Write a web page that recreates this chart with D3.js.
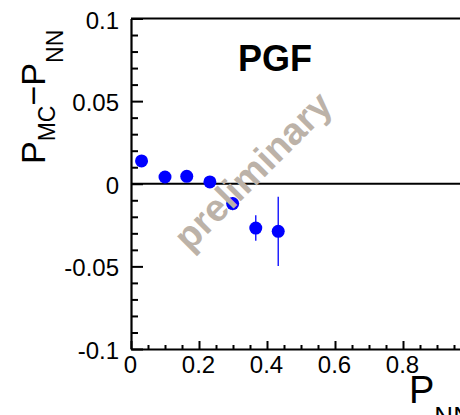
<!DOCTYPE html>
<html>
<head>
<meta charset="utf-8">
<script src="https://cdn.jsdelivr.net/npm/d3@7/dist/d3.min.js"></script>
<style>
  html, body { margin: 0; padding: 0; background: #fff; }
  svg { display: block; overflow: hidden; }
  text { font-family: "Liberation Sans", Arial, Helvetica, sans-serif; }
</style>
</head>
<body>
<svg id="chart" width="460" height="415"></svg>
<script>
// Purity difference P_MC - P_NN versus P_NN, PGF sample
const pNN      = [0.031, 0.100, 0.164, 0.232, 0.299, 0.367, 0.433];
const diff     = [0.0138, 0.0041, 0.0045, 0.0011, -0.0120, -0.0268, -0.0288];
const diffErr  = [0.0020, 0.0020, 0.0020, 0.0025, 0.0040, 0.0077, 0.0210];

const xMajorTicks = [0, 0.2, 0.4, 0.6, 0.8];
const xTickLabels = ["0", "0.2", "0.4", "0.6", "0.8"];
const yMajorTicks = [-0.1, -0.05, 0, 0.05, 0.1];
const yTickLabels = ["-0.1", "-0.05", "0", "0.05", "0.1"];

const svg = d3.select("#chart");
const frame = { left: 131, right: 471, top: 18.5, bottom: 349 };

const x = d3.scaleLinear().domain([0, 1]).range([frame.left, frame.right]);
const y = d3.scaleLinear().domain([-0.1, 0.1]).range([frame.bottom, frame.top]);

const fmtX = d => xTickLabels[xMajorTicks.findIndex(v => Math.abs(v - d) < 1e-9)];
const fmtY = d => yTickLabels[yMajorTicks.findIndex(v => Math.abs(v - d) < 1e-9)];

// minor ticks
const xMinor = d3.range(0, 1.0001, 0.05).filter(v => Math.abs(v / 0.2 - Math.round(v / 0.2)) > 1e-6);
const yMinor = d3.range(-0.1, 0.1001, 0.01).filter(v => Math.abs(v / 0.05 - Math.round(v / 0.05)) > 1e-6);

svg.append("g")
  .attr("transform", `translate(0,${frame.bottom})`)
  .call(d3.axisBottom(x).tickValues(xMinor).tickSize(-4).tickSizeOuter(0).tickFormat(""))
  .call(g => g.select(".domain").remove())
  .call(g => g.selectAll("line").attr("stroke-width", 2));

svg.append("g")
  .attr("transform", `translate(${frame.left},0)`)
  .call(d3.axisLeft(y).tickValues(yMinor).tickSize(-7).tickSizeOuter(0).tickFormat(""))
  .call(g => g.select(".domain").remove())
  .call(g => g.selectAll("line").attr("stroke-width", 2));

// major ticks + labels
svg.append("g")
  .attr("transform", `translate(0,${frame.bottom})`)
  .call(d3.axisBottom(x).tickValues(xMajorTicks).tickSize(-8).tickSizeOuter(0).tickPadding(7).tickFormat(fmtX))
  .call(g => g.select(".domain").attr("stroke-width", 2.2))
  .call(g => g.selectAll("line").attr("stroke-width", 2))
  .call(g => g.selectAll("text").attr("font-size", 24).attr("fill", "#000")
      .attr("font-family", "Liberation Sans, Arial, sans-serif").attr("dx", -1));

svg.append("g")
  .attr("transform", `translate(${frame.left},0)`)
  .call(d3.axisLeft(y).tickValues(yMajorTicks).tickSize(-12).tickSizeOuter(0).tickPadding(12).tickFormat(fmtY))
  .call(g => g.select(".domain").attr("stroke-width", 2.2))
  .call(g => g.selectAll("line").attr("stroke-width", 2))
  .call(g => g.selectAll("text").attr("font-size", 24).attr("fill", "#000")
      .attr("font-family", "Liberation Sans, Arial, sans-serif").attr("dy", "0.4em"));

// top frame edge
svg.append("line")
  .attr("x1", frame.left).attr("x2", frame.right)
  .attr("y1", frame.top).attr("y2", frame.top)
  .attr("stroke", "#000").attr("stroke-width", 2.2);

// zero reference line
svg.append("line")
  .attr("x1", frame.left).attr("x2", frame.right)
  .attr("y1", y(0)).attr("y2", y(0))
  .attr("stroke", "#000").attr("stroke-width", 2);

// data points with error bars
const pts = svg.append("g");
pts.selectAll("line.err").data(pNN).join("line")
  .attr("class", "err")
  .attr("x1", (d) => x(d)).attr("x2", (d) => x(d))
  .attr("y1", (d, i) => y(diff[i] + diffErr[i]))
  .attr("y2", (d, i) => y(diff[i] - diffErr[i]))
  .attr("stroke", "#0000ff").attr("stroke-width", 1.3);
pts.selectAll("circle").data(pNN).join("circle")
  .attr("cx", (d) => x(d))
  .attr("cy", (d, i) => y(diff[i]))
  .attr("r", 6.5)
  .attr("fill", "#0000ff");

// watermark
svg.append("text")
  .attr("transform", "translate(262,180) rotate(-45)")
  .attr("text-anchor", "middle")
  .attr("font-size", 38)
  .attr("font-weight", "bold")
  .attr("fill", "rgb(188,178,168)")
  .text("preliminary");

// sample label
svg.append("text")
  .attr("x", 238).attr("y", 71)
  .attr("font-size", 36).attr("font-weight", "bold")
  .text("PGF");

// y-axis title: P_MC − P_NN
const yTitle = svg.append("text")
  .attr("transform", "translate(45,164) rotate(-90)")
  .attr("font-size", 34);
yTitle.append("tspan").text("P");
yTitle.append("tspan").attr("font-size", 23).attr("dy", 10).text("MC");
yTitle.append("tspan").attr("dy", -10).text("\u2212");
yTitle.append("tspan").text("P");
yTitle.append("tspan").attr("font-size", 23).attr("dy", 18).text("NN");

// x-axis title: P_NN
const xTitle = svg.append("text")
  .attr("x", 409).attr("y", 403)
  .attr("font-size", 38);
xTitle.append("tspan").text("P");
xTitle.append("tspan").attr("font-size", 26).attr("dy", 22).text("NN");
</script>
</body>
</html>
